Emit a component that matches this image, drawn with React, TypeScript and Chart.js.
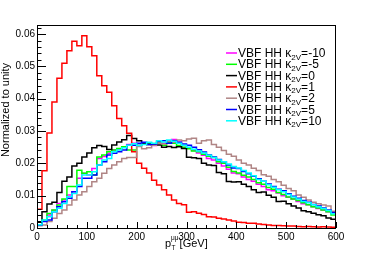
import React, { useEffect, useRef } from 'react';
import { Chart, registerables } from 'chart.js';

Chart.register(...registerables);

// ---- data ----
const binEdges: number[] = Array.from({ length: 61 }, (_, i) => i * 10); // GeV
const xTicks = [0, 100, 200, 300, 400, 500, 600];
const yTicks = [0, 0.01, 0.02, 0.03, 0.04, 0.05, 0.06];
const kappaLabels = ['-10', '-5', '0', '1', '2', '5', '10'];
const seriesColors = ['#ff00ff', '#00ff00', '#000000', '#ff0000', '#b08585', '#0000ff', '#00ffff'];

const kM10 = [
  0.0010, 0.0022, 0.0040, 0.0055, 0.0076, 0.0087, 0.0102, 0.0112, 0.0154, 0.0169,
  0.0164, 0.0184, 0.0215, 0.0221, 0.0231, 0.0241, 0.0243, 0.0251, 0.0258, 0.0262,
  0.0256, 0.0262, 0.0260, 0.0255, 0.0265, 0.0262, 0.0270, 0.0274, 0.0265, 0.0255,
  0.0248, 0.0240, 0.0232, 0.0225, 0.0215, 0.0210, 0.0200, 0.0192, 0.0182, 0.0170,
  0.0168, 0.0158, 0.0150, 0.0145, 0.0135, 0.0128, 0.0118, 0.0115, 0.0108, 0.0100,
  0.0095, 0.0090, 0.0082, 0.0075, 0.0072, 0.0066, 0.0060, 0.0056, 0.0050, 0.0046,
];
const kM5 = [
  0.0009, 0.0025, 0.0045, 0.0056, 0.0071, 0.0090, 0.0128, 0.0128, 0.0179, 0.0169,
  0.0174, 0.0164, 0.0220, 0.0226, 0.0236, 0.0241, 0.0246, 0.0251, 0.0241, 0.0241,
  0.0255, 0.0260, 0.0262, 0.0258, 0.0262, 0.0256, 0.0264, 0.0262, 0.0255, 0.0250,
  0.0245, 0.0238, 0.0236, 0.0228, 0.0222, 0.0218, 0.0205, 0.0200, 0.0188, 0.0175,
  0.0170, 0.0163, 0.0158, 0.0150, 0.0140, 0.0135, 0.0125, 0.0120, 0.0110, 0.0104,
  0.0096, 0.0090, 0.0085, 0.0078, 0.0072, 0.0066, 0.0062, 0.0056, 0.0050, 0.0040,
];
const k0 = [
  0.0019, 0.0050, 0.0074, 0.0080, 0.0110, 0.0145, 0.0158, 0.0192, 0.0200, 0.0220,
  0.0232, 0.0248, 0.0255, 0.0252, 0.0243, 0.0257, 0.0266, 0.0273, 0.0286, 0.0277,
  0.0270, 0.0262, 0.0258, 0.0256, 0.0257, 0.0250, 0.0252, 0.0249, 0.0251, 0.0246,
  0.0219, 0.0217, 0.0215, 0.0200, 0.0195, 0.0193, 0.0172, 0.0168, 0.0144, 0.0142,
  0.0143, 0.0135, 0.0128, 0.0118, 0.0110, 0.0111, 0.0101, 0.0095, 0.0082, 0.0083,
  0.0075, 0.0068, 0.0062, 0.0053, 0.0050, 0.0046, 0.0041, 0.0038, 0.0031, 0.0027,
];
const k1 = [
  0.0058, 0.0177, 0.0294, 0.0390, 0.0463, 0.0510, 0.0548, 0.0578, 0.0564, 0.0595,
  0.0561, 0.0533, 0.0471, 0.0440, 0.0420, 0.0378, 0.0339, 0.0316, 0.0293, 0.0236,
  0.0200, 0.0185, 0.0170, 0.0148, 0.0133, 0.0118, 0.0102, 0.0087, 0.0076, 0.0072,
  0.0049, 0.0050, 0.0046, 0.0042, 0.0035, 0.0034, 0.0030, 0.0028, 0.0025, 0.0022,
  0.0018, 0.0017, 0.0015, 0.0015, 0.0012, 0.0011, 0.0009, 0.0008, 0.0008, 0.0007,
  0.0006, 0.0006, 0.0005, 0.0004, 0.0005, 0.0004, 0.0003, 0.0004, 0.0003, 0.0002,
];
const k2 = [
  0.0007, 0.0009, 0.0020, 0.0030, 0.0045, 0.0056, 0.0071, 0.0087, 0.0102, 0.0112,
  0.0128, 0.0143, 0.0154, 0.0169, 0.0184, 0.0195, 0.0205, 0.0215, 0.0218, 0.0218,
  0.0252, 0.0245, 0.0248, 0.0256, 0.0262, 0.0260, 0.0268, 0.0265, 0.0272, 0.0270,
  0.0275, 0.0278, 0.0262, 0.0270, 0.0272, 0.0258, 0.0250, 0.0240, 0.0228, 0.0222,
  0.0210, 0.0200, 0.0195, 0.0185, 0.0178, 0.0165, 0.0160, 0.0150, 0.0143, 0.0132,
  0.0122, 0.0115, 0.0102, 0.0095, 0.0087, 0.0080, 0.0075, 0.0071, 0.0068, 0.0052,
];
const k5 = [
  0.0009, 0.0020, 0.0025, 0.0050, 0.0066, 0.0081, 0.0092, 0.0112, 0.0128, 0.0154,
  0.0154, 0.0164, 0.0195, 0.0205, 0.0226, 0.0231, 0.0236, 0.0241, 0.0256, 0.0256,
  0.0262, 0.0265, 0.0258, 0.0260, 0.0268, 0.0270, 0.0262, 0.0270, 0.0265, 0.0260,
  0.0256, 0.0250, 0.0242, 0.0235, 0.0226, 0.0220, 0.0212, 0.0205, 0.0195, 0.0186,
  0.0184, 0.0175, 0.0168, 0.0160, 0.0152, 0.0145, 0.0136, 0.0128, 0.0120, 0.0115,
  0.0106, 0.0098, 0.0092, 0.0085, 0.0080, 0.0073, 0.0068, 0.0062, 0.0056, 0.0048,
];
const k10 = [
  0.0010, 0.0025, 0.0035, 0.0050, 0.0061, 0.0076, 0.0097, 0.0107, 0.0133, 0.0164,
  0.0164, 0.0174, 0.0195, 0.0210, 0.0215, 0.0236, 0.0241, 0.0248, 0.0256, 0.0261,
  0.0255, 0.0258, 0.0265, 0.0262, 0.0270, 0.0266, 0.0272, 0.0268, 0.0262, 0.0256,
  0.0250, 0.0244, 0.0238, 0.0232, 0.0225, 0.0218, 0.0210, 0.0205, 0.0198, 0.0190,
  0.0186, 0.0178, 0.0170, 0.0162, 0.0150, 0.0145, 0.0134, 0.0126, 0.0118, 0.0112,
  0.0104, 0.0096, 0.0090, 0.0082, 0.0078, 0.0072, 0.0066, 0.0060, 0.0054, 0.0044,
];
const allSeries = [kM10, kM5, k0, k1, k2, k5, k10];

const FONT = '"Liberation Sans", Arial, Helvetica, sans-serif';

function histPoints(vals: number[]) {
  const pts: { x: number; y: number }[] = [{ x: binEdges[0], y: 0 }];
  vals.forEach((v, i) => {
    pts.push({ x: binEdges[i], y: v });
    pts.push({ x: binEdges[i + 1], y: v });
  });
  return pts;
}

const rootStyle = {
  id: 'rootStyle',
  afterDraw(chart: any) {
    const { ctx, chartArea: a, scales } = chart;
    const xs = scales.x;
    const ys = scales.y;
    ctx.save();
    // frame
    ctx.strokeStyle = '#000';
    ctx.lineWidth = 1;
    ctx.strokeRect(a.left + 0.5, a.top + 0.5, a.right - a.left - 1, a.bottom - a.top);
    // y ticks
    const yStep = yTicks[1] - yTicks[0];
    const yMinor = yStep / 5;
    ctx.beginPath();
    for (let k = 0; k * yMinor <= ys.max + 1e-9; k++) {
      const v = k * yMinor;
      const py = Math.round(ys.getPixelForValue(v)) + 0.5;
      const len = k % 5 === 0 ? 9 : 4.5;
      ctx.moveTo(a.left, py);
      ctx.lineTo(a.left + len, py);
    }
    // x ticks
    const xStep = xTicks[1] - xTicks[0];
    const xMinor = xStep / 5;
    for (let k = 0; k * xMinor <= xs.max + 1e-9; k++) {
      const v = k * xMinor;
      const px = Math.round(xs.getPixelForValue(v)) + 0.5;
      const len = k % 5 === 0 ? 6 : 3;
      ctx.moveTo(px, a.bottom);
      ctx.lineTo(px, a.bottom - len);
    }
    ctx.stroke();

    // x title: p_T^{μμ} [GeV]
    ctx.fillStyle = '#000';
    ctx.textBaseline = 'alphabetic';
    ctx.textAlign = 'left';
    const big = `11px ${FONT}`;
    const small = `6.5px ${FONT}`;
    const cx = (a.left + a.right) / 2;
    const base = 246.5;
    let tx = cx - 21.5;
    ctx.font = big;
    ctx.fillText('p', tx, base);
    tx += ctx.measureText('p').width;
    ctx.font = small;
    ctx.fillText('μμ', tx, base - 6.5);
    ctx.fillText('T', tx + 0.5, base + 3);
    tx += ctx.measureText('μμ').width + 1;
    ctx.font = big;
    ctx.fillText('[GeV]', tx, base);

    // y title
    ctx.save();
    ctx.translate(6, 110);
    ctx.rotate(-Math.PI / 2);
    ctx.font = `11px ${FONT}`;
    ctx.textAlign = 'center';
    ctx.textBaseline = 'middle';
    ctx.fillText('Normalized to unity', 0, 0);
    ctx.restore();

    // legend
    kappaLabels.forEach((lab, i) => {
      const y = 53 + i * 11.3;
      ctx.strokeStyle = seriesColors[i];
      ctx.lineWidth = 1.5;
      ctx.beginPath();
      ctx.moveTo(226, y);
      ctx.lineTo(237, y);
      ctx.stroke();
      let lx = 238;
      const bl = y + 4;
      ctx.fillStyle = '#000';
      ctx.textBaseline = 'alphabetic';
      ctx.font = `12px ${FONT}`;
      ctx.fillText('VBF HH κ', lx, bl);
      lx += ctx.measureText('VBF HH κ').width;
      ctx.font = `8px ${FONT}`;
      ctx.fillText('2V', lx, bl + 2.5);
      lx += ctx.measureText('2V').width;
      ctx.font = `12px ${FONT}`;
      ctx.fillText('=' + lab, lx, bl);
    });
    ctx.restore();
  },
};

export default function App() {
  const ref = useRef<HTMLCanvasElement | null>(null);
  useEffect(() => {
    document.body.style.margin = '0';
    const canvas = ref.current;
    if (!canvas) return;
    const chart = new Chart(canvas, {
      type: 'line',
      data: {
        datasets: allSeries.map((vals, i) => ({
          label: 'VBF HH κ2V=' + kappaLabels[i],
          data: histPoints(vals),
          borderColor: seriesColors[i],
          backgroundColor: seriesColors[i],
          borderWidth: 1.5,
          pointRadius: 0,
          tension: 0,
          fill: false,
          order: allSeries.length - 1 - i,
        })),
      },
      options: {
        animation: false,
        responsive: false,
        maintainAspectRatio: false,
        events: [],
        layout: { padding: { top: 25, right: 38, left: 0, bottom: 0 } },
        plugins: { legend: { display: false }, tooltip: { enabled: false } },
        scales: {
          x: {
            type: 'linear',
            min: 0,
            max: 600,
            grid: { display: false, drawTicks: false },
            border: { display: false },
            ticks: { font: { family: FONT, size: 10 }, color: '#000', padding: 3, maxRotation: 0, autoSkip: false },
            afterBuildTicks: (s: any) => {
              s.ticks = xTicks.map((v) => ({ value: v }));
            },
            afterFit: (s: any) => {
              s.height = 27;
            },
          },
          y: {
            type: 'linear',
            min: 0,
            max: 0.0628,
            grid: { display: false, drawTicks: false },
            border: { display: false },
            ticks: {
              font: { family: FONT, size: 10 },
              color: '#000',
              padding: 2,
              callback: (v: any) => (v === 0 ? '0' : Number(v).toFixed(2)),
            },
            afterBuildTicks: (s: any) => {
              s.ticks = yTicks.map((v) => ({ value: v }));
            },
            afterFit: (s: any) => {
              s.width = 37;
            },
          },
        },
      },
      plugins: [rootStyle],
    });
    return () => chart.destroy();
  }, []);
  return (
    <div style={{ width: 374, height: 255 }}>
      <canvas ref={ref} width={374} height={255} style={{ display: 'block', width: 374, height: 255 }} />
    </div>
  );
}
